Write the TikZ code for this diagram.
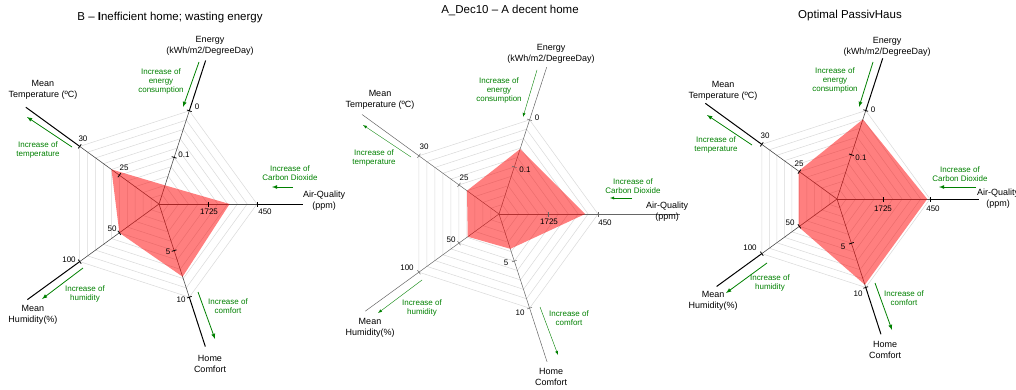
\documentclass[tikz,border=0pt]{standalone}
\usepackage{fontspec}
\setmainfont{Liberation Sans}
\begin{document}
\begin{tikzpicture}[x=1pt, y=1pt]

  \tikzstyle{grid} = [gray!30, line width=0.5]
  \tikzstyle{axisin} = [gray!60!black, line width=0.6]
  \tikzstyle{axisout} = [black, line width=1]
  \tikzstyle{axisthin} = [gray!80!black, line width=0.5]
  \tikzstyle{tick} = [black, line width=0.8]
  \tikzstyle{area} = [fill=red, fill opacity=0.5]
  \tikzstyle{hint} = [green!50!black, font=\fontsize{8}{9}\selectfont, align=center]
  \tikzstyle{hintarrow} = [green!50!black, line width=0.8, -latex]
  \tikzstyle{axislabel} = [font=\fontsize{9}{11}\selectfont, align=center]
  \tikzstyle{ticklabel} = [font=\fontsize{8}{9}\selectfont, inner sep=0]
  \tikzstyle{title} = [font=\fontsize{11.5}{13}\selectfont]

  \useasboundingbox (0,0) rectangle (1016,389);

  % B - inefficient home
  \begin{scope}[shift={(159,185)}]
    \def\R{98}
    \foreach \k in {1,...,10}
      \draw[grid] (0:{\k*\R/10}) -- (72:{\k*\R/10}) -- (144:{\k*\R/10})
        -- (216:{\k*\R/10}) -- (288:{\k*\R/10}) -- cycle;
    \foreach \a/\e in {72/1.54, 144/1.68, 0/1.47, 216/1.66, 288/1.53} {
      \draw[axisin] (0,0) -- (\a:\R);
      \draw[axisout] (\a:\R) -- (\a:{\e*\R});
    }
    \fill[area] (72:{0.20*\R}) -- (144:{0.60*\R}) -- (216:{0.50*\R})
      -- (288:{0.78*\R}) -- (0:{0.72*\R}) -- cycle;
    \foreach \a in {0,72,144,216,288}
      \foreach \f in {0.5,1}
        \draw[tick, shift={(\a:{\f*\R})}, rotate=\a] (0,-2.5) -- (0,2.5);

    \node[title] (t1) at (11,186) {B – \textbf{I}nefficient home; wasting energy};
    \node[axislabel] (e1) at (51,158) {Energy\\(kWh/m2/DegreeDay)};
    \node[axislabel] (m1) at (-116,114) {Mean\\Temperature (ºC)};
    \node[axislabel] (a1) at (165,3) {Air-Quality\\(ppm)};
    \node[axislabel] (h1) at (-126,-111) {Mean\\Humidity(\%)};
    \node[axislabel] (c1) at (51,-160) {Home\\Comfort};

    \node[hint] (ge1) at (2,123) {Increase of\\energy\\consumption};
    \draw[hintarrow] (40,142) -- (24,97);
    \node[hint] (gt1) at (-121,54) {Increase of\\temperature};
    \draw[hintarrow] (-87,57) -- (-132,87);
    \node[hint] (ga1) at (131,31) {Increase of\\Carbon Dioxide};
    \draw[hintarrow] (134,17) -- (113,17);
    \node[hint] (gh1) at (-74,-90) {Increase of\\humidity};
    \draw[hintarrow] (-76,-64) -- (-117,-95);
    \node[hint] (gc1) at (69,-102) {Increase of\\comfort};
    \draw[hintarrow] (39,-88) -- (56,-135);

    \node[ticklabel] (e1a) at (38,97) {0};
    \node[ticklabel] (e1b) at (25,49) {0.1};
    \node[ticklabel] (m1a) at (-76,65) {30};
    \node[ticklabel] (m1b) at (-35,36) {25};
    \node[ticklabel] (a1a) at (50,-8) {1725};
    \node[ticklabel] (a1b) at (106,-8) {450};
    \node[ticklabel] (h1a) at (-47,-25) {50};
    \node[ticklabel] (h1b) at (-90,-56) {100};
    \node[ticklabel] (c1a) at (9,-48) {5};
    \node[ticklabel] (c1b) at (22,-96) {10};
  \end{scope}

  % A_Dec10 - decent home
  \begin{scope}[shift={(499,175)}]
    \def\R{99}
    \foreach \k in {1,...,10}
      \draw[grid] (0:{\k*\R/10}) -- (72:{\k*\R/10}) -- (144:{\k*\R/10})
        -- (216:{\k*\R/10}) -- (288:{\k*\R/10}) -- cycle;
    \foreach \a/\e in {72/1.56, 144/1.71, 0/1.83, 216/1.67, 288/1.57}
      \draw[axisthin] (0,0) -- (\a:{\e*\R});
    \fill[area] (72:{0.69*\R}) -- (144:{0.40*\R}) -- (216:{0.39*\R})
      -- (288:{0.37*\R}) -- (0:{0.87*\R}) -- cycle;
    \foreach \a in {0,72,144,216,288}
      \foreach \f in {0.5,1}
        \draw[axisthin, shift={(\a:{\f*\R})}, rotate=\a] (0,-2.5) -- (0,2.5);

    \node[title] (t2) at (11,204) {A\_Dec10 – A decent home};
    \node[axislabel] (e2) at (52,160) {Energy\\(kWh/m2/DegreeDay)};
    \node[axislabel] (m2) at (-119,114) {Mean\\Temperature (ºC)};
    \node[axislabel] (a2) at (168,2) {Air-Quality\\(ppm)};
    \node[axislabel] (h2) at (-129,-114) {Mean\\Humidity(\%)};
    \node[axislabel] (c2) at (52,-163) {Home\\Comfort};

    \node[hint] (ge2) at (0,124) {Increase of\\energy\\consumption};
    \draw[hintarrow, line width=0.4] (38,144) -- (24,97);
    \node[hint] (gt2) at (-125,56) {Increase of\\temperature};
    \draw[hintarrow, line width=0.4] (-88,57) -- (-136,89);
    \node[hint] (ga2) at (134,28) {Increase of\\Carbon Dioxide};
    \draw[hintarrow, line width=0.4] (133,16) -- (111,16);
    \node[hint] (gh2) at (-77,-94) {Increase of\\humidity};
    \draw[hintarrow, line width=0.4] (-77,-66) -- (-121,-99);
    \node[hint] (gc2) at (70,-104) {Increase of\\comfort};
    \draw[hintarrow, line width=0.4] (41,-93) -- (59,-141);

    \node[ticklabel] (e2a) at (38,96) {0};
    \node[ticklabel] (e2b) at (26,44) {0.1};
    \node[ticklabel] (m2a) at (-75,67) {30};
    \node[ticklabel] (m2b) at (-35,36) {25};
    \node[ticklabel] (a2a) at (50,-8) {1725};
    \node[ticklabel] (a2b) at (106,-9) {450};
    \node[ticklabel] (h2a) at (-48,-26) {50};
    \node[ticklabel] (h2b) at (-92,-54) {100};
    \node[ticklabel] (c2a) at (7,-49) {5};
    \node[ticklabel] (c2b) at (21,-99) {10};
  \end{scope}

  % Optimal PassivHaus
  \begin{scope}[shift={(837,190)}]
    \def\R{93}
    \foreach \k in {1,...,10}
      \draw[grid] (0:{\k*\R/10}) -- (72:{\k*\R/10}) -- (144:{\k*\R/10})
        -- (216:{\k*\R/10}) -- (288:{\k*\R/10}) -- cycle;
    \foreach \a/\e in {72/1.59, 144/1.75, 0/1.53, 216/1.6, 288/1.53} {
      \draw[axisin] (0,0) -- (\a:\R);
      \draw[axisout] (\a:\R) -- (\a:{\e*\R});
    }
    \fill[area] (72:{0.90*\R}) -- (144:{0.51*\R}) -- (216:{0.51*\R})
      -- (288:{0.97*\R}) -- (0:{0.97*\R}) -- cycle;
    \foreach \a in {0,72,144,216,288}
      \foreach \f in {0.5,1}
        \draw[tick, shift={(\a:{\f*\R})}, rotate=\a] (0,-2.5) -- (0,2.5);

    \node[title] (t3) at (13,183) {Optimal PassivHaus};
    \node[axislabel] (e3) at (50,152) {Energy\\(kWh/m2/DegreeDay)};
    \node[axislabel] (m3) at (-114,108) {Mean\\Temperature (ºC)};
    \node[axislabel] (a3) at (161,0) {Air-Quality\\(ppm)};
    \node[axislabel] (h3) at (-124,-102) {Mean\\Humidity(\%)};
    \node[axislabel] (c3) at (48,-151) {Home\\Comfort};

    \node[hint] (ge3) at (-2,119) {Increase of\\energy\\consumption};
    \draw[hintarrow] (36,137) -- (22,92);
    \node[hint] (gt3) at (-121,54) {Increase of\\temperature};
    \draw[hintarrow] (-85,54) -- (-130,84);
    \node[hint] (ga3) at (123,25) {Increase of\\Carbon Dioxide};
    \draw[hintarrow] (139,12) -- (102,12);
    \node[hint] (gh3) at (-67,-84) {Increase of\\humidity};
    \draw[hintarrow] (-70,-64) -- (-111,-94);
    \node[hint] (gc3) at (67,-99) {Increase of\\comfort};
    \draw[hintarrow] (38,-84) -- (55,-131);

    \node[ticklabel] (e3a) at (36,89) {0};
    \node[ticklabel] (e3b) at (24,41) {0.1};
    \node[ticklabel] (m3a) at (-72,63) {30};
    \node[ticklabel] (m3b) at (-38,35) {25};
    \node[ticklabel] (a3a) at (46,-10) {1725};
    \node[ticklabel] (a3b) at (96,-10) {450};
    \node[ticklabel] (h3a) at (-47,-24) {50};
    \node[ticklabel] (h3b) at (-87,-49) {100};
    \node[ticklabel] (c3a) at (6,-48) {5};
    \node[ticklabel] (c3b) at (21,-95) {10};
  \end{scope}

\end{tikzpicture}
\end{document}
